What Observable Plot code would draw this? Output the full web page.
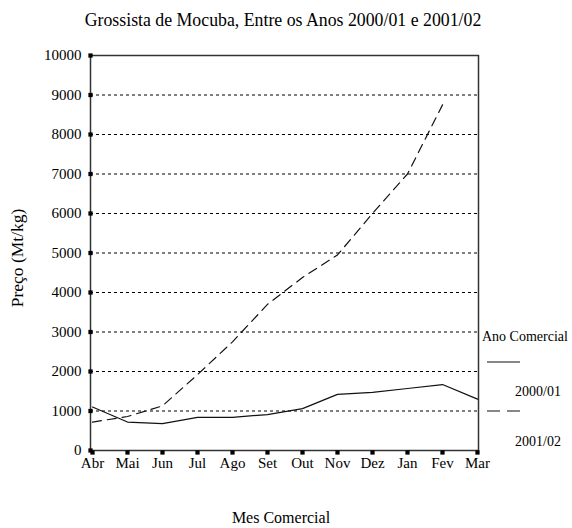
<!DOCTYPE html>
<html>
<head>
<meta charset="utf-8">
<script src="https://cdn.jsdelivr.net/npm/d3@7"></script>
<script src="https://cdn.jsdelivr.net/npm/@observablehq/plot@0.6"></script>
<style>
  html, body { margin: 0; padding: 0; background: #fff; }
  #chart { width: 572px; height: 528px; }
</style>
</head>
<body>
<div id="chart"></div>
<script>
const months = ["Abr","Mai","Jun","Jul","Ago","Set","Out","Nov","Dez","Jan","Fev","Mar"];
const series2000 = [1100, 720, 680, 840, 840, 910, 1060, 1420, 1470, 1570, 1670, 1300];
const series2001 = [720, 860, 1130, 1920, 2750, 3700, 4380, 4950, 6000, 7000, 8750];
const yTicks = [0,1000,2000,3000,4000,5000,6000,7000,8000,9000,10000];
const gridTicks = [1000,2000,3000,4000,5000,6000,7000,8000,9000];
const title = "Grossista de Mocuba, Entre os Anos 2000/01 e 2001/02";
const xLabel = "Mes Comercial";
const yLabel = "Preço (Mt/kg)";
const legendTitle = "Ano Comercial";
const seriesNames = ["2000/01", "2001/02"];

const rows2000 = months.map((m, i) => ({month: m, value: series2000[i]}));
const rows2001 = series2001.map((v, i) => ({month: months[i], value: v}));

const FONT = "Liberation Serif";

const svg = Plot.plot({
  width: 572,
  height: 528,
  marginTop: 55,
  marginBottom: 78,
  marginLeft: 90,
  marginRight: 94,
  style: {fontFamily: FONT, fontSize: "15px", background: "#fff", color: "#000", overflow: "visible"},
  x: {type: "point", domain: months, padding: 0, label: null},
  y: {domain: [0, 10000], label: null},
  marks: [
    Plot.ruleY(gridTicks, {stroke: "#000", strokeWidth: 1.2, strokeDasharray: "3,3"}),
    Plot.frame({stroke: "#333", strokeWidth: 1.5}),
    Plot.axisY(yTicks, {tickSize: 0, tickPadding: 9, fontSize: 15, tickFormat: d => String(d)}),
    Plot.axisX(months, {tickSize: 0, tickPadding: 7, fontSize: 15}),
    Plot.dot(yTicks, {x: () => "Abr", y: d => d, symbol: "square", r: 2.4, fill: "#000", stroke: null, dx: -2}),
    Plot.dot(months, {x: d => d, y: () => 0, symbol: "square", r: 2.4, fill: "#000", stroke: null, dy: 2}),
    Plot.line(rows2000, {x: "month", y: "value", stroke: "#111", strokeWidth: 1.2}),
    Plot.line(rows2001, {x: "month", y: "value", stroke: "#111", strokeWidth: 1.2, strokeDasharray: "9,6"})
  ]
});

document.getElementById("chart").appendChild(svg);

const s = d3.select(svg);
const txt = (x, y, t, size, anchor) => s.append("text")
  .attr("x", x).attr("y", y).attr("text-anchor", anchor || "start")
  .attr("font-family", FONT).attr("font-size", size).attr("fill", "#000").text(t);

txt(283, 26, title, 17.8, "middle");
txt(281, 523, xLabel, 16, "middle");
s.append("text")
  .attr("transform", "translate(23,258) rotate(-90)")
  .attr("text-anchor", "middle")
  .attr("font-family", FONT).attr("font-size", 17.5).attr("fill", "#000")
  .text(yLabel);

txt(482, 341, legendTitle, 14, "start");
s.append("line").attr("x1", 487).attr("x2", 520).attr("y1", 362).attr("y2", 362)
  .attr("stroke", "#111").attr("stroke-width", 1.2);
txt(515, 396, seriesNames[0], 14, "start");
s.append("line").attr("x1", 487).attr("x2", 520).attr("y1", 411).attr("y2", 411)
  .attr("stroke", "#111").attr("stroke-width", 1.2).attr("stroke-dasharray", "13,7");
txt(515, 446, seriesNames[1], 14, "start");
</script>
</body>
</html>
